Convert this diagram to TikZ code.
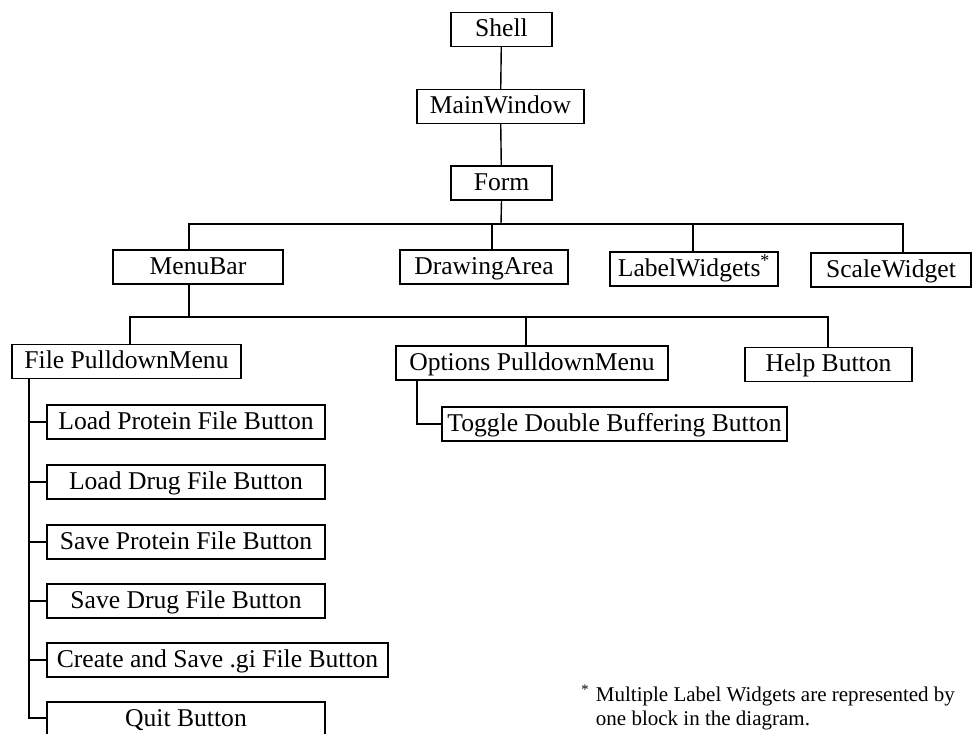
\documentclass[tikz,border=0pt]{standalone}
\usepackage{fontspec}
\setmainfont{Liberation Serif}
\begin{document}
\begin{tikzpicture}[x=0.75pt,y=-0.75pt,
  wbox/.style={draw,line width=1.05pt,inner sep=0pt,minimum height=25.5pt,
    text height=15pt,text depth=3.8pt,
    font=\fontsize{19.2}{22}\selectfont},
  link/.style={line width=1.05pt}]
\useasboundingbox (0,0) rectangle (979,734);
\clip (0,0) rectangle (979,734);

% root chain
\node[wbox,minimum width=75.75pt] (shell) at (501.5,29.5) {Shell};
\node[wbox,minimum width=125.25pt] (mainwin) at (500.5,106.5) {MainWindow};
\node[wbox,minimum width=75.75pt] (form) at (501.5,183) {Form};

% children of the form
\node[wbox,minimum width=127.5pt] (menubar) at (198,267) {MenuBar};
\node[wbox,minimum width=126pt] (drawing) at (484,267) {DrawingArea};
\node[wbox,minimum width=126pt] (labels) at (694,269) {LabelWidgets\textsuperscript{*}};
\node[wbox,minimum width=120pt] (scale) at (891,270) {ScaleWidget};

% children of the menu bar
\node[wbox,minimum width=171.75pt] (filemenu) at (126.5,361.5) {File PulldownMenu};
\node[wbox,minimum width=204pt] (optmenu) at (532,363) {Options PulldownMenu};
\node[wbox,minimum width=125.25pt] (help) at (828.5,364.5) {Help Button};

% options menu entry
\node[wbox,minimum width=258.75pt] (toggle) at (614.5,424) {Toggle Double Buffering Button};

% file menu entries
\node[wbox,minimum width=208.5pt] (loadp) at (186,422) {Load Protein File Button};
\node[wbox,minimum width=208.5pt] (loadd) at (186,482) {Load Drug File Button};
\node[wbox,minimum width=208.5pt] (savep) at (186,542) {Save Protein File Button};
\node[wbox,minimum width=208.5pt] (saved) at (186,601) {Save Drug File Button};
\node[wbox,minimum width=255.75pt] (create) at (217.5,660) {Create and Save .gi File Button};
\node[wbox,minimum width=208.5pt] (quit) at (186,719) {Quit Button};

% bus coordinates
\coordinate (busA) at (501,224);
\coordinate (busB) at (189,317);
\coordinate (ftrunk) at (29,718);
\coordinate (otrunk) at (417,424);

% connectors
\draw[link] (shell) -- (mainwin);
\draw[link] (mainwin) -- (form);
\draw[link] (form.south) -- (busA);
\draw[link] (menubar.north -| busB) |- (busA) -| (scale.north -| 903,0);
\draw[link] (drawing.north -| 492,0) -- (492,224);
\draw[link] (labels.north -| 693,0) -- (693,224);

\draw[link] (menubar.south -| busB) -- (busB);
\draw[link] (filemenu.north -| 130,0) |- (busB) -| (help.north -| 828,0);
\draw[link] (optmenu.north -| 526,0) -- (526,317);

\draw[link] (filemenu.south -| ftrunk) -- (ftrunk) -- (quit.west |- ftrunk);
\foreach \b in {loadp,loadd,savep,saved,create}
  \draw[link] (\b.west -| ftrunk) -- (\b.west);

\draw[link] (optmenu.south -| otrunk) -- (otrunk) -- (toggle.west |- otrunk);

% footnote
\node[anchor=north west,inner sep=0pt,font=\fontsize{15.75}{18}\selectfont,align=left]
  (note) at (581,684)
  {\begin{tabular}{@{}l@{\hspace{5pt}}l@{}}
   \textsuperscript{*} & Multiple Label Widgets are represented by\\
   & one block in the diagram.
   \end{tabular}};
\end{tikzpicture}
\end{document}
